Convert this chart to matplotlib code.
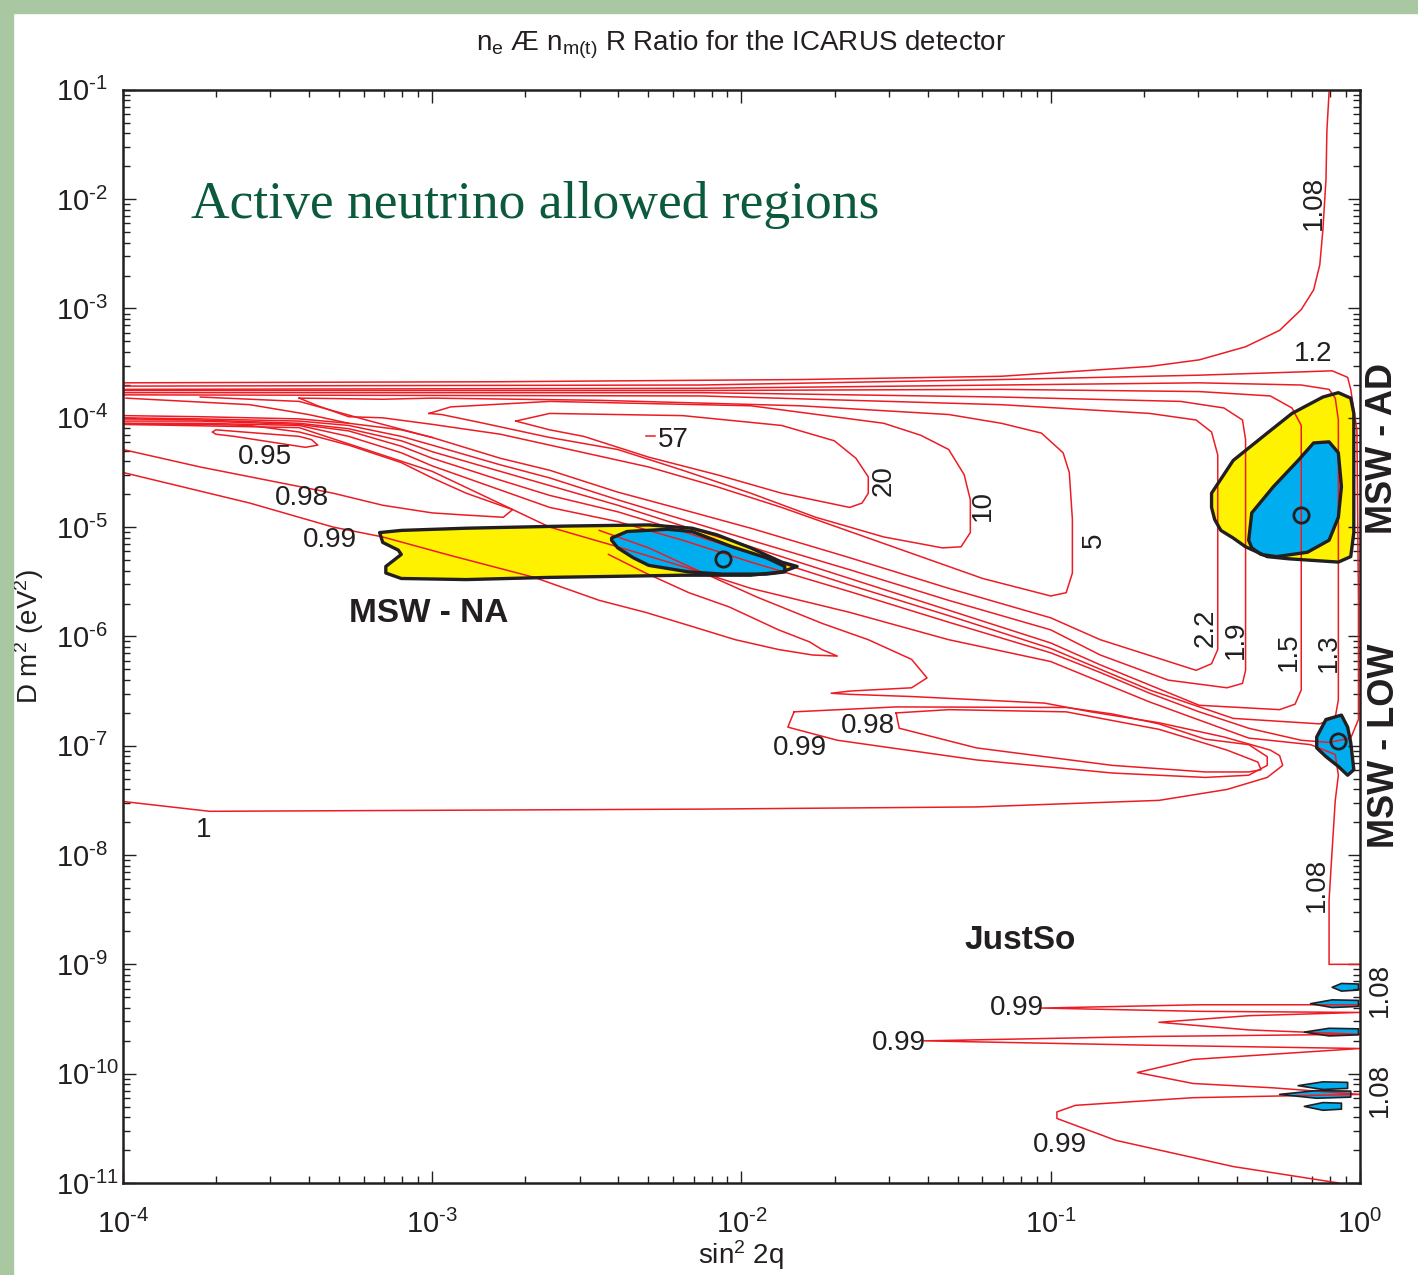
import numpy as np
import matplotlib
matplotlib.use("Agg")
import matplotlib.pyplot as plt
from matplotlib.ticker import LogLocator, FuncFormatter, NullFormatter
from matplotlib.patches import Polygon, Rectangle

plt.rcParams['font.family'] = ['Liberation Sans', 'DejaVu Sans']
plt.rcParams['mathtext.fontset'] = 'custom'
plt.rcParams['mathtext.rm'] = 'Liberation Sans'
plt.rcParams['mathtext.it'] = 'Liberation Sans:italic'
plt.rcParams['mathtext.bf'] = 'Liberation Sans:bold'
plt.rcParams['mathtext.default'] = 'regular'

# all curves are (log10 sin^2 2q, log10 dm^2)
c108_top = [(-4.00,-3.68),(-2.78,-3.67),(-1.81,-3.65),(-1.16,-3.62),(-0.84,-3.56),(-0.68,-3.53),
            (-0.52,-3.47),(-0.37,-3.35),(-0.26,-3.20),(-0.19,-3.01),(-0.15,-2.83),(-0.13,-2.60),
            (-0.12,-2.28),(-0.11,-1.82),(-0.107,-1.37),(-0.10,-1.02)]
c12 = [(-4.00,-3.71),(-2.13,-3.70),(-1.16,-3.65),(-0.52,-3.61),(-0.19,-3.58),(-0.09,-3.57),
       (-0.04,-3.63),(-0.03,-3.74),(-0.01,-4.11),(-0.005,-5.67),(-0.005,-6.76),(-0.03,-6.93),
       (-0.10,-6.97),(-0.19,-6.95),(-0.36,-6.84),(-0.52,-6.69),(-0.68,-6.52),(-0.84,-6.33),
       (-1.00,-6.15),(-1.33,-5.87),(-1.65,-5.59),(-1.97,-5.32),(-2.19,-5.12),(-2.40,-4.95),
       (-2.62,-4.82),(-2.78,-4.66),(-3.00,-4.44),(-3.10,-4.32),(-3.27,-4.17),(-3.43,-4.07),
       (-3.75,-4.05),(-4.00,-4.05)]
c13 = [(-4.00,-3.74),(-2.13,-3.73),(-1.16,-3.70),(-0.52,-3.68),(-0.19,-3.70),(-0.10,-3.74),
       (-0.08,-3.82),(-0.07,-4.02),(-0.07,-6.58),(-0.08,-6.74),(-0.13,-6.80),(-0.41,-6.75),
       (-0.68,-6.49),(-1.00,-6.11),(-1.33,-5.81),(-1.65,-5.53),(-1.97,-5.24),(-2.19,-5.04),
       (-2.40,-4.86),(-2.62,-4.71),(-2.78,-4.57),(-3.00,-4.37),(-3.10,-4.26),(-3.27,-4.12),
       (-3.43,-4.06),(-3.75,-4.03),(-4.00,-4.03)]
c15 = [(-4.00,-3.75),(-2.13,-3.75),(-1.16,-3.74),(-0.52,-3.76),(-0.29,-3.80),(-0.22,-3.91),
       (-0.19,-4.07),(-0.19,-6.49),(-0.21,-6.62),(-0.26,-6.67),(-0.52,-6.63),(-0.84,-6.26),
       (-1.00,-6.06),(-1.33,-5.76),(-1.65,-5.47),(-1.97,-5.18),(-2.19,-4.99),(-2.40,-4.80),
       (-2.62,-4.62),(-2.78,-4.49),(-3.00,-4.31),(-3.10,-4.21),(-3.27,-4.10),(-3.43,-4.05),
       (-3.75,-4.02),(-4.00,-4.01)]
c19 = [(-4.00,-3.77),(-2.13,-3.77),(-1.16,-3.81),(-0.58,-3.85),(-0.44,-3.91),(-0.38,-4.02),
       (-0.37,-4.20),(-0.37,-6.31),(-0.38,-6.43),(-0.43,-6.47),(-0.62,-6.40),(-0.84,-6.17),
       (-1.00,-5.94),(-1.33,-5.67),(-1.65,-5.39),(-1.97,-5.12),(-2.19,-4.93),(-2.40,-4.75),
       (-2.62,-4.55),(-2.78,-4.43),(-3.00,-4.25),(-3.10,-4.17),(-3.27,-4.07),(-3.43,-4.03),
       (-3.75,-4.01),(-4.00,-4.00)]
c22 = [(-4.00,-3.79),(-2.13,-3.80),(-1.16,-3.88),(-0.68,-3.96),(-0.53,-4.02),(-0.48,-4.13),
       (-0.46,-4.34),(-0.46,-6.12),(-0.48,-6.25),(-0.53,-6.31),(-0.84,-6.03),(-1.00,-5.83),
       (-1.33,-5.56),(-1.65,-5.28),(-1.97,-5.01),(-2.19,-4.84),(-2.40,-4.68),(-2.62,-4.48),
       (-2.78,-4.37),(-3.00,-4.18),(-3.10,-4.11),(-3.27,-4.05),(-3.43,-4.01),(-3.75,-3.99),
       (-4.00,-3.98)]
c5 = [(-3.43,-3.82),(-3.16,-3.83),(-3.00,-3.82),(-2.46,-3.84),(-1.81,-3.89),(-1.33,-3.97),
      (-1.16,-4.05),(-1.03,-4.14),(-0.96,-4.32),(-0.94,-4.50),(-0.93,-4.93),(-0.93,-5.42),
      (-0.95,-5.60),(-1.00,-5.63),(-1.22,-5.47),(-1.43,-5.26),(-1.65,-5.04),(-1.87,-4.82),
      (-2.08,-4.63),(-2.30,-4.45),(-2.62,-4.25),(-2.78,-4.15),(-3.00,-4.06),(-3.16,-4.00),
      (-3.27,-3.99),(-3.37,-3.89),(-3.43,-3.82)]
c10 = [(-3.01,-3.96),(-2.94,-3.90),(-2.62,-3.85),(-1.97,-3.89),(-1.54,-4.05),(-1.42,-4.16),
       (-1.33,-4.29),(-1.28,-4.52),(-1.26,-4.75),(-1.26,-5.05),(-1.29,-5.18),(-1.35,-5.19),
       (-1.54,-5.09),(-1.76,-4.91),(-1.97,-4.69),(-2.19,-4.48),(-2.40,-4.29),(-2.62,-4.18),
       (-2.85,-4.04),(-2.97,-3.97),(-3.01,-3.96)]
c20 = [(-2.73,-4.03),(-2.62,-3.96),(-2.19,-3.98),(-1.87,-4.07),(-1.70,-4.21),(-1.63,-4.37),
       (-1.59,-4.54),(-1.59,-4.69),(-1.61,-4.78),(-1.65,-4.82),(-1.87,-4.69),(-2.08,-4.52),
       (-2.30,-4.36),(-2.51,-4.17),(-2.62,-4.11),(-2.73,-4.03)]
c57 = [(-2.31,-4.17),(-2.28,-4.17)]
tip_a = [(-3.99,-3.82),(-3.59,-3.88),(-3.40,-3.97),(-3.27,-4.05)]
tip_b = [(-3.75,-3.81),(-3.43,-3.85),(-3.20,-4.03),(-3.00,-4.18)]
c095 = [(-3.71,-4.13),(-3.70,-4.11),(-3.43,-4.17),(-3.39,-4.20),(-3.37,-4.25),(-3.41,-4.27),
        (-3.64,-4.17),(-3.70,-4.15),(-3.71,-4.13)]
c098 = [(-4.00,-4.29),(-3.75,-4.45),(-3.32,-4.69),(-3.16,-4.80),(-3.00,-4.87),(-2.89,-4.89),
        (-2.77,-4.91),(-2.74,-4.84),(-2.78,-4.80),(-2.89,-4.69),(-3.00,-4.55),(-3.10,-4.41),
        (-3.27,-4.25),(-3.43,-4.13),(-3.59,-4.07),(-3.75,-4.06),(-4.00,-4.06)]
c099 = [(-4.00,-4.50),(-3.59,-4.78),(-3.32,-5.00),(-3.16,-5.09),(-2.94,-5.26),(-2.67,-5.46),
        (-2.62,-5.51),(-2.46,-5.67),(-2.31,-5.78),(-2.17,-5.90),(-2.02,-6.03),(-1.88,-6.12),
        (-1.77,-6.17),(-1.69,-6.18),(-1.74,-6.12),(-1.78,-6.05),(-1.88,-5.94),(-2.04,-5.73),
        (-2.17,-5.60),(-2.31,-5.42),(-2.43,-5.25)]
c1 = [(-4.00,-7.51),(-3.72,-7.60),(-2.13,-7.58),(-1.24,-7.56),(-0.65,-7.50),(-0.43,-7.40),
      (-0.30,-7.29),(-0.25,-7.18),(-0.26,-7.09),(-0.29,-7.04),(-0.44,-6.92),(-0.65,-6.79),
      (-0.87,-6.69),(-1.02,-6.61),(-1.45,-6.55),(-1.65,-6.53),(-1.71,-6.52),(-1.65,-6.50),
      (-1.45,-6.47),(-1.40,-6.38),(-1.45,-6.21),(-1.59,-6.03),(-1.74,-5.88),(-1.95,-5.64),
      (-2.17,-5.36),(-2.30,-5.19),(-2.46,-5.03)]
c099_low = [(-1.83,-6.69),(-1.50,-6.645),(-0.95,-6.65),(-0.80,-6.71),(-0.65,-6.80),(-0.50,-6.94),
            (-0.36,-6.99),(-0.30,-7.10),(-0.30,-7.18),(-0.36,-7.27),(-0.50,-7.29),(-0.80,-7.25),
            (-1.24,-7.13),(-1.69,-6.95),(-1.85,-6.83),(-1.83,-6.69)]
c098_low = [(-1.50,-6.70),(-1.33,-6.67),(-0.95,-6.69),(-0.65,-6.85),(-0.43,-7.04),(-0.33,-7.15),
            (-0.32,-7.22),(-0.36,-7.24),(-0.50,-7.24),(-0.80,-7.18),(-1.24,-7.02),(-1.49,-6.84),
            (-1.50,-6.70)]
c108_low = [(-4.00,-4.06),(-3.43,-4.09),(-3.00,-4.49),(-2.62,-5.00),(-2.40,-5.18),(-2.19,-5.36),
            (-1.97,-5.56),(-1.65,-5.78),(-1.33,-6.03),(-1.00,-6.23),(-0.68,-6.60),(-0.36,-6.93),
            (-0.16,-6.99),(-0.08,-7.08),(-0.07,-7.27),(-0.08,-7.50),(-0.09,-7.95),(-0.10,-8.41),
            (-0.10,-9.00),(0.0,-9.00)]
c099_justso = [(0.0,-9.37),(-0.52,-9.37),(-1.03,-9.40),(-0.52,-9.43),(0.0,-9.44),(-0.36,-9.47),
               (-0.65,-9.53),(-0.36,-9.60),(0.0,-9.64),(-0.68,-9.66),(-1.41,-9.70),(-0.68,-9.74),
               (0.0,-9.77),(-0.54,-9.87),(-0.72,-9.99),(-0.54,-10.09),(-0.28,-10.13),(0.0,-10.19),
               (-0.54,-10.22),(-0.92,-10.29),(-0.98,-10.35),(-0.98,-10.41),(-0.79,-10.61),
               (-0.41,-10.85),(-0.07,-11.00)]
red_curves = [c108_top, c12, c13, c15, c19, c22, c5, c10, c20, c57, tip_a, tip_b, c095, c098,
              c099, c1, c099_low, c098_low, c108_low, c099_justso]

# allowed regions
na_yellow = [(-3.17,-5.05),(-3.16,-5.14),(-3.11,-5.21),(-3.10,-5.25),(-3.15,-5.36),(-3.15,-5.42),
             (-3.10,-5.47),(-2.89,-5.48),(-2.62,-5.46),(-2.40,-5.45),(-2.19,-5.44),(-1.97,-5.44),
             (-1.87,-5.41),(-1.82,-5.36),(-1.87,-5.32),(-1.97,-5.19),(-2.08,-5.07),(-2.16,-5.01),
             (-2.30,-4.98),(-2.56,-4.99),(-2.89,-5.01),(-3.10,-5.03)]
na_blue = [(-2.42,-5.10),(-2.37,-5.04),(-2.24,-5.02),(-2.16,-5.04),(-2.03,-5.18),(-1.92,-5.28),
           (-1.86,-5.36),(-1.86,-5.41),(-1.92,-5.43),(-2.06,-5.43),(-2.17,-5.41),(-2.30,-5.35),
           (-2.35,-5.28),(-2.40,-5.19),(-2.42,-5.12)]
ad_yellow = [(-0.48,-4.69),(-0.41,-4.39),(-0.30,-4.14),(-0.22,-3.96),(-0.12,-3.81),(-0.07,-3.77),
             (-0.03,-3.82),(-0.02,-3.96),(-0.02,-4.45),(-0.02,-5.05),(-0.03,-5.27),(-0.07,-5.32),
             (-0.23,-5.29),(-0.30,-5.27),(-0.37,-5.18),(-0.41,-5.10),(-0.45,-5.03),(-0.47,-4.93),
             (-0.48,-4.82)]
ad_blue = [(-0.36,-5.12),(-0.35,-4.87),(-0.28,-4.63),(-0.20,-4.39),(-0.15,-4.23),(-0.10,-4.22),
           (-0.07,-4.32),(-0.06,-4.63),(-0.07,-4.91),(-0.10,-5.12),(-0.17,-5.23),(-0.27,-5.27),
           (-0.32,-5.25),(-0.35,-5.19)]
low_blue = [(-0.14,-6.92),(-0.11,-6.76),(-0.06,-6.72),(-0.04,-6.83),(-0.03,-6.97),(-0.02,-7.22),
            (-0.04,-7.27),(-0.07,-7.19),(-0.11,-7.10),(-0.14,-7.02)]
js1 = [(-0.09,-9.21),(-0.06,-9.175),(-0.005,-9.18),(-0.005,-9.235),(-0.06,-9.245)]
js2 = [(-0.16,-9.36),(-0.09,-9.325),(-0.005,-9.33),(-0.005,-9.385),(-0.09,-9.395)]
js3 = [(-0.18,-9.62),(-0.10,-9.585),(-0.005,-9.59),(-0.005,-9.645),(-0.10,-9.655)]
js4 = [(-0.20,-10.11),(-0.12,-10.075),(-0.04,-10.08),(-0.04,-10.135),(-0.12,-10.145)]
js5 = [(-0.26,-10.19),(-0.14,-10.155),(-0.03,-10.16),(-0.03,-10.215),(-0.14,-10.225)]
js6 = [(-0.18,-10.30),(-0.12,-10.265),(-0.06,-10.27),(-0.06,-10.325),(-0.12,-10.335)]
best_fits = [(-2.06,-5.29),(-0.19,-4.89),(-0.07,-6.96)]
x_decades = np.arange(-4, 1)
y_decades = np.arange(-11, 0)

RED = '#ed1c24'
YELLOW = '#fff200'
BLUE = '#00aeef'
INK = '#231f20'


def lin(pts):
    a = np.array(pts, dtype=float)
    return 10 ** a


def dec_label(v, pos):
    e = int(round(np.log10(v)))
    if e < 0:
        return '$10^{\u2010%d}$' % (-e)
    return '$10^{%d}$' % e


fig = plt.figure(figsize=(14.18, 12.75), dpi=100)
fig.patch.set_facecolor('white')
# slide background showing at the edges
fig.patches.append(Rectangle((0, 0), 0.0092, 1, transform=fig.transFigure, color='#a9c7a0', zorder=0))
fig.patches.append(Rectangle((0, 0.99), 1, 0.01, transform=fig.transFigure, color='#a9c7a0', zorder=0))

ax = fig.add_axes([0.0867, 0.0722, 0.8724, 0.8573])
ax.set_xscale('log')
ax.set_yscale('log')

for reg, col in [(na_yellow, YELLOW), (ad_yellow, YELLOW), (na_blue, BLUE), (ad_blue, BLUE),
                 (low_blue, BLUE), (js1, BLUE), (js2, BLUE), (js3, BLUE), (js4, BLUE),
                 (js5, BLUE), (js6, BLUE)]:
    lw = 2.4 if len(reg) > 6 else 1.2
    ax.add_patch(Polygon(lin(reg), closed=True, facecolor=col, edgecolor='none', zorder=1))
    ax.add_patch(Polygon(lin(reg), closed=True, facecolor='none', edgecolor=INK, lw=lw,
                         joinstyle='round', zorder=3))

for c in red_curves:
    p = lin(c)
    ax.plot(p[:, 0], p[:, 1], color=RED, lw=1.1, zorder=2)

bf = lin(best_fits)
ax.plot(bf[:, 0], bf[:, 1], 'o', ms=11, mfc='none', mec=INK, mew=2, zorder=4)


# contour labels
def lab(x, y, s, rot=0, size=20, **kw):
    ax.text(10 ** x, 10 ** y, s, rotation=rot, fontsize=size, color=INK,
            ha='center', va='center', zorder=5, **kw)


lab(-3.54, -4.36, '0.95')
lab(-3.42, -4.73, '0.98')
lab(-3.33, -5.12, '0.99')
lab(-2.22, -4.20, '57')
lab(-1.54, -4.57, '20', 90)
lab(-1.22, -4.80, '10', 90)
lab(-0.86, -5.12, '5', 90)
lab(-0.50, -5.92, '2.2', 90)
lab(-0.40, -6.03, '1.9', 90)
lab(-0.23, -6.14, '1.5', 90)
lab(-0.10, -6.15, '1.3', 90)
lab(-0.15, -3.42, '1.2')
lab(-0.15, -2.03, '1.08', 90)
lab(-0.14, -8.27, '1.08', 90)
lab(0.065, -9.23, '1.08', 90, clip_on=False)
lab(0.065, -10.15, '1.08', 90, clip_on=False)
lab(-1.59, -6.82, '0.98')
lab(-1.81, -7.02, '0.99')
lab(-3.74, -7.77, '1')
lab(-1.11, -9.40, '0.99')
lab(-1.49, -9.72, '0.99')
lab(-0.97, -10.65, '0.99')
lab(-3.01, -5.79, 'MSW - NA', size=24, fontweight='bold')
lab(-1.10, -8.78, 'JustSo', size=24, fontweight='bold')
lab(0.074, -4.28, 'MSW - AD', 90, size=26, fontweight='bold', clip_on=False)
lab(0.08, -7.00, 'MSW - LOW', 90, size=26, fontweight='bold', clip_on=False)

ax.text(10 ** -3.78, 10 ** -2.17, 'Active neutrino allowed regions', fontsize=38.5,
        family=['Liberation Serif', 'DejaVu Serif'], color='#0b5a3c', ha='left', va='baseline')

ax.set_xticks(10.0 ** x_decades)
ax.set_yticks(10.0 ** y_decades)
ax.xaxis.set_minor_locator(LogLocator(base=10, subs=np.arange(2, 10), numticks=15))
ax.yaxis.set_minor_locator(LogLocator(base=10, subs=np.arange(2, 10), numticks=15))
ax.xaxis.set_major_formatter(FuncFormatter(dec_label))
ax.yaxis.set_major_formatter(FuncFormatter(dec_label))
ax.xaxis.set_minor_formatter(NullFormatter())
ax.yaxis.set_minor_formatter(NullFormatter())
ax.set_xlim(1e-4, 1)
ax.set_ylim(1e-11, 1e-1)
ax.tick_params(which='both', direction='in', top=True, right=True, color=INK, width=1)
ax.tick_params(which='major', length=9, labelsize=21, labelcolor=INK)
ax.tick_params(which='minor', length=5)
ax.tick_params(axis='x', which='major', pad=19)
ax.tick_params(axis='y', which='major', pad=48)
for lbl in ax.get_yticklabels():
    lbl.set_horizontalalignment('left')
for s in ax.spines.values():
    s.set_linewidth(1.8)
    s.set_color(INK)

ax.set_title('n$_{e}$ Æ n$_{m(t)}$ R Ratio for the ICARUS detector', fontsize=20, color=INK, pad=28)
ax.set_xlabel('sin$^{2}$ 2q', fontsize=20, color=INK, labelpad=0)
ax.set_ylabel('D m$^{2}$ (eV$^{2}$)', fontsize=20, color=INK)
ax.yaxis.set_label_coords(-0.062, 0.5)

fig.savefig('out.png', dpi=100)
